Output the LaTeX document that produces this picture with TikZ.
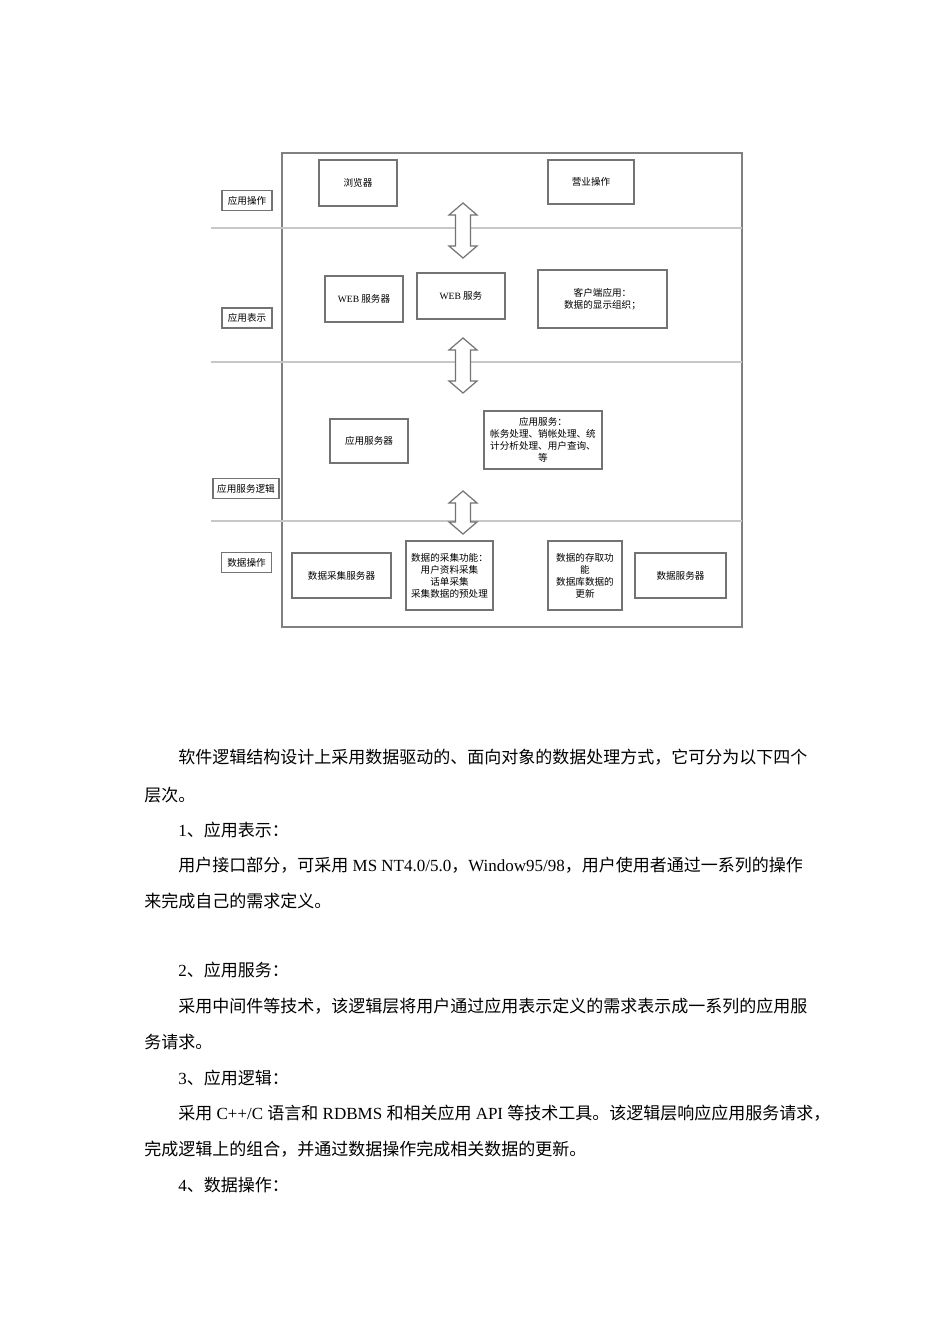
\documentclass[tikz,border=0pt]{standalone}
\usepackage{fontspec}
\setmainfont{Liberation Serif}
\newfontfamily\cjk{Noto Sans CJK SC}
\usetikzlibrary{calc}

\begin{document}
\begin{tikzpicture}[
        x=0.5pt,y=-0.5pt
        ,frame/.style={draw=black!50,line width=0.6pt}
        ,sepline/.style={draw=black!22,line width=0.6pt}
        ,box/.style={draw=black!55,line width=0.6pt,inner sep=0pt,align=center,
            font=\fontsize{4.8}{6}\selectfont\cjk}
        ,layer/.style={box,minimum width=25pt,minimum height=10pt}
        ,arrowline/.style={draw=black!55,line width=0.6pt,fill=white}
        ,para/.style={anchor=base west,inner sep=0pt,font=\fontsize{8.5}{10}\selectfont}
    ]
    \useasboundingbox[fill=white] (0,0) rectangle (950,1344);
    % 外框与分层线
    \draw[frame] (282,153) rectangle (742,627);
    \foreach \y in {228,362,521}
        \draw[sepline] (211,\y) -- (742,\y);
    % 左侧层名
    \node[layer] (lop)   at (247,200.5) {应用操作};
    \node[layer] (lpres) at (247,318)   {应用表示};
    \node[layer,minimum width=33pt] (lsvc) at (246,488.5) {应用服务逻辑};
    \node[layer] (ldata) at (246.5,562.5) {数据操作};
    % 应用操作
    \node[box,minimum width=39pt,minimum height=23pt] (browser) at (358,183) {浏览器};
    \node[box,minimum width=43pt,minimum height=22pt] (business) at (591,182) {营业操作};
    % 应用表示
    \node[box,minimum width=39pt,minimum height=23pt] (websrv) at (364,299)
        {{\fontspec{Liberation Serif}WEB} 服务器};
    \node[box,minimum width=44pt,minimum height=23pt] (websvc) at (461,296)
        {{\fontspec{Liberation Serif}WEB} 服务};
    \node[box,minimum width=64.5pt,minimum height=29pt] (client) at (602.5,299)
        {客户端应用：\\数据的显示组织；};
    % 应用服务逻辑
    \node[box,minimum width=39pt,minimum height=22pt] (appsrv) at (369,441) {应用服务器};
    \node[box,minimum width=59pt,minimum height=29pt] (appsvc) at (543,440)
        {应用服务：\\帐务处理、销帐处理、统\\计分析处理、用户查询、\\等};
    % 数据操作
    \node[box,minimum width=49.5pt,minimum height=22.5pt] (collsrv) at (341.5,575.5) {数据采集服务器};
    \node[box,minimum width=43.5pt,minimum height=34.5pt] (collfn) at (449.5,575.5)
        {数据的采集功能：\\用户资料采集\\话单采集\\采集数据的预处理};
    \node[box,minimum width=37pt,minimum height=34.5pt] (accfn) at (585,575.5)
        {数据的存取功\\能\\数据库数据的\\更新};
    \node[box,minimum width=45.5pt,minimum height=22.5pt] (datasrv) at (680.5,575.5) {数据服务器};
    % 层间双向箭头
    \foreach \ytop/\ybot in {203/258,338/393,491/534}
        \draw[arrowline] ($(463,\ytop)+(-7.5,12)$) -- ++(-6.5,0) -- ++(14,-12) -- ++(14,12)
            -- ++(-6.5,0) -- ++(0,{\ybot-\ytop-24}) -- ++(6.5,0) -- ++(-14,12)
            -- ++(-14,-12) -- ++(6.5,0) -- cycle;
    % 正文
    \node[para] (t1)  at (178,763.5)  {\cjk 软件逻辑结构设计上采用数据驱动的、面向对象的数据处理方式，它可分为以下四个};
    \node[para] (t2)  at (144,801.5)  {\cjk 层次。};
    \node[para] (t3)  at (178,836.5)  {1{\cjk 、应用表示：}};
    \node[para] (t4)  at (178,871.5)  {{\cjk 用户接口部分，可采用} MS NT4.0/5.0{\cjk ，}Window95/98{\cjk ，用户使用者通过一系列的操作}};
    \node[para] (t5)  at (144,907.5)  {\cjk 来完成自己的需求定义。};
    \node[para] (t6)  at (178,976.5)  {2{\cjk 、应用服务：}};
    \node[para] (t7)  at (178,1012.5) {\cjk 采用中间件等技术，该逻辑层将用户通过应用表示定义的需求表示成一系列的应用服};
    \node[para] (t8)  at (144,1048.5) {\cjk 务请求。};
    \node[para] (t9)  at (178,1084.5) {3{\cjk 、应用逻辑：}};
    \node[para] (t10) at (178,1119.5) {{\cjk 采用} C++/C {\cjk 语言和} RDBMS {\cjk 和相关应用} API {\cjk 等技术工具。该逻辑层响应应用服务请求，}};
    \node[para] (t11) at (144,1155.5) {\cjk 完成逻辑上的组合，并通过数据操作完成相关数据的更新。};
    \node[para] (t12) at (178,1191.5) {4{\cjk 、数据操作：}};
\end{tikzpicture}
\end{document}
